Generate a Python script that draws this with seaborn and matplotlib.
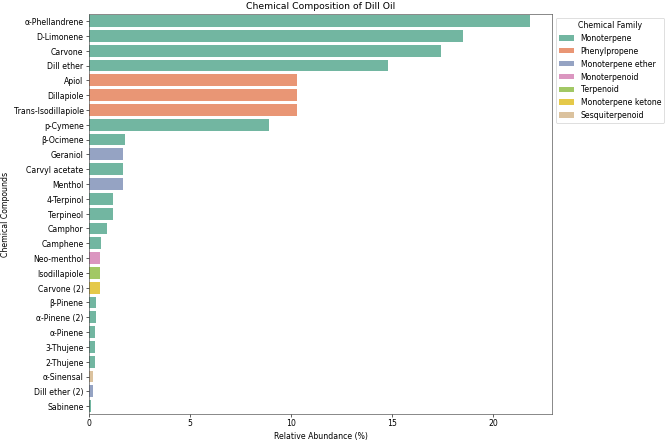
import matplotlib
matplotlib.use("Agg")
import matplotlib.pyplot as plt
import seaborn as sns
import pandas as pd

compounds = ["α-Phellandrene", "D-Limonene", "Carvone", "Dill ether", "Apiol", "Dillapiole",
             "Trans-Isodillapiole", "p-Cymene", "β-Ocimene", "Geraniol", "Carvyl acetate",
             "Menthol", "4-Terpinol", "Terpineol", "Camphor", "Camphene", "Neo-menthol",
             "Isodillapiole", "Carvone (2)", "β-Pinene", "α-Pinene (2)", "α-Pinene",
             "3-Thujene", "2-Thujene", "α-Sinensal", "Dill ether (2)", "Sabinene"]
abundance = [21.8, 18.5, 17.4, 14.8, 10.3, 10.3, 10.3, 8.9, 1.8, 1.7, 1.7, 1.7, 1.2, 1.2,
             0.9, 0.6, 0.55, 0.55, 0.55, 0.35, 0.35, 0.3, 0.3, 0.3, 0.2, 0.2, 0.1]
families = ["Monoterpene", "Monoterpene", "Monoterpene", "Monoterpene", "Phenylpropene",
            "Phenylpropene", "Phenylpropene", "Monoterpene", "Monoterpene", "Monoterpene ether",
            "Monoterpene", "Monoterpene ether", "Monoterpene", "Monoterpene", "Monoterpene",
            "Monoterpene", "Monoterpenoid", "Terpenoid", "Monoterpene ketone", "Monoterpene",
            "Monoterpene", "Monoterpene", "Monoterpene", "Monoterpene", "Sesquiterpenoid",
            "Monoterpene ether", "Monoterpene"]

df = pd.DataFrame({"Compound": compounds, "Abundance": abundance, "Family": families})

fig, ax = plt.subplots(figsize=(12, 7.9), dpi=55.75)
sns.barplot(data=df, x="Abundance", y="Compound", hue="Family", dodge=False,
            palette="Set2", ax=ax)
ax.set_title("Chemical Composition of Dill Oil", fontsize=12)
ax.set_xlabel("Relative Abundance (%)")
ax.set_ylabel("Chemical Compounds")
for s in ax.spines.values():
    s.set_edgecolor("#444444")
ax.legend(title="Chemical Family", loc="upper left", bbox_to_anchor=(1, 1))
fig.subplots_adjust(left=0.133, right=0.825, top=0.968, bottom=0.06)
fig.savefig("out.png", dpi=55.75)
